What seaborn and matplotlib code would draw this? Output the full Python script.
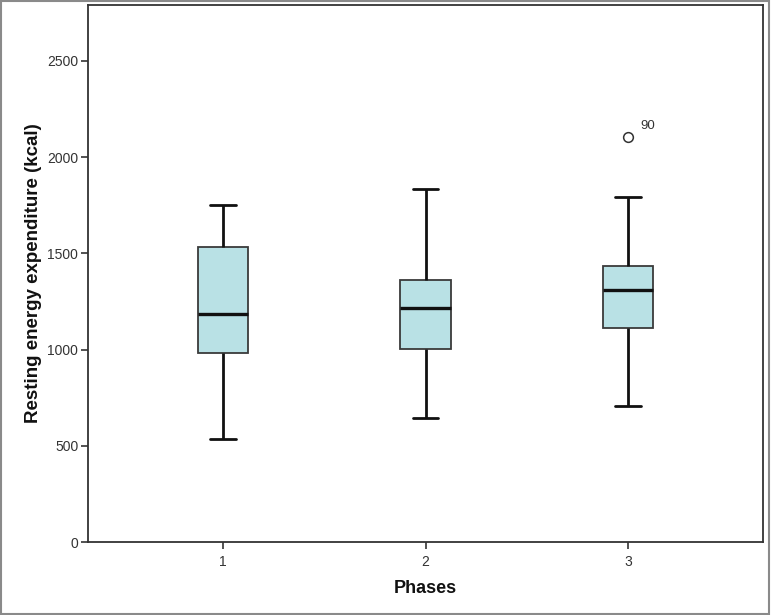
import numpy as np
import pandas as pd
import matplotlib
matplotlib.use("Agg")
import matplotlib.pyplot as plt
import matplotlib.patches as patches
import seaborn as sns

# five-number summaries (kcal)
phases = ["1", "2", "3"]
low_whisker = [534, 643, 707]
q1 = [981, 1001, 1110]
median = [1183, 1218, 1311]
q3 = [1533, 1363, 1436]
high_whisker = [1751, 1833, 1791]
outliers = [[], [], [2103]]
outlier_labels = [[], [], ["90"]]

# rebuild a small table whose quartiles give exactly the boxes above
rows = []
for i, ph in enumerate(phases):
    vals = [low_whisker[i], q1[i], q1[i], median[i], median[i], q3[i], q3[i], high_whisker[i]] + outliers[i]
    for v in vals:
        rows.append({"Phases": ph, "REE": v})
df = pd.DataFrame(rows)

sns.set_theme(style="white")
plt.rcParams['font.family'] = ['Liberation Sans', 'DejaVu Sans']

fig = plt.figure(figsize=(7.71, 6.15), dpi=100)
ax = fig.add_axes([88 / 771, 1 - 542 / 615, (763 - 88) / 771, (542 - 5) / 615])

sns.boxplot(data=df, x="Phases", y="REE", order=phases, ax=ax,
            width=0.25, color="#b9e1e5", saturation=1, fill=True, whis=1.5,
            boxprops=dict(edgecolor="#3a3a3a", linewidth=1.3),
            medianprops=dict(color="#111111", linewidth=2.4),
            whiskerprops=dict(color="#111111", linewidth=2.0),
            capprops=dict(color="#111111", linewidth=2.0),
            flierprops=dict(marker="o", markerfacecolor="white", markeredgecolor="#333333",
                            markersize=7, markeredgewidth=1.1))

# SPSS caps are half the box width
for ln in ax.lines:
    x = ln.get_xdata()
    y = ln.get_ydata()
    if len(x) == 2 and y[0] == y[1] and x[0] != x[1]:
        c = (x[0] + x[1]) / 2
        h = (x[1] - x[0]) / 2
        if abs(abs(h) - 0.05) < 0.02:
            ln.set_xdata([c - 0.0625, c + 0.0625])

for i in range(len(phases)):
    for v, lab in zip(outliers[i], outlier_labels[i]):
        ax.text(i + 0.06, v + 25, lab, fontsize=9.5, color="#333333", ha="left", va="bottom")

ax.set_xlim(-2 / 3, 2 + 2 / 3)
ax.set_ylim(0, 2790)
ax.set_yticks([0, 500, 1000, 1500, 2000, 2500])
ax.tick_params(axis="both", which="both", direction="out", length=5, width=1.2,
               color="#333333", labelsize=10, labelcolor="#333333", left=True, bottom=True)
ax.tick_params(axis="x", pad=4)
ax.tick_params(axis="y", pad=2)
for sp in ax.spines.values():
    sp.set_visible(True)
    sp.set_color("#333333")
    sp.set_linewidth(1.3)

ax.set_xlabel("Phases", fontsize=13, fontweight="bold", labelpad=8, color="#111111")
ax.set_ylabel("Resting energy expenditure (kcal)", fontsize=13.5, fontweight="bold",
              labelpad=4, color="#111111")

# grey frame around the whole picture
fig.patches.append(patches.Rectangle((0.001, 0.001), 0.997, 0.997, transform=fig.transFigure,
                                     fill=False, edgecolor="#8a8a8a", linewidth=1.5))

fig.savefig("out.png", dpi=100)
